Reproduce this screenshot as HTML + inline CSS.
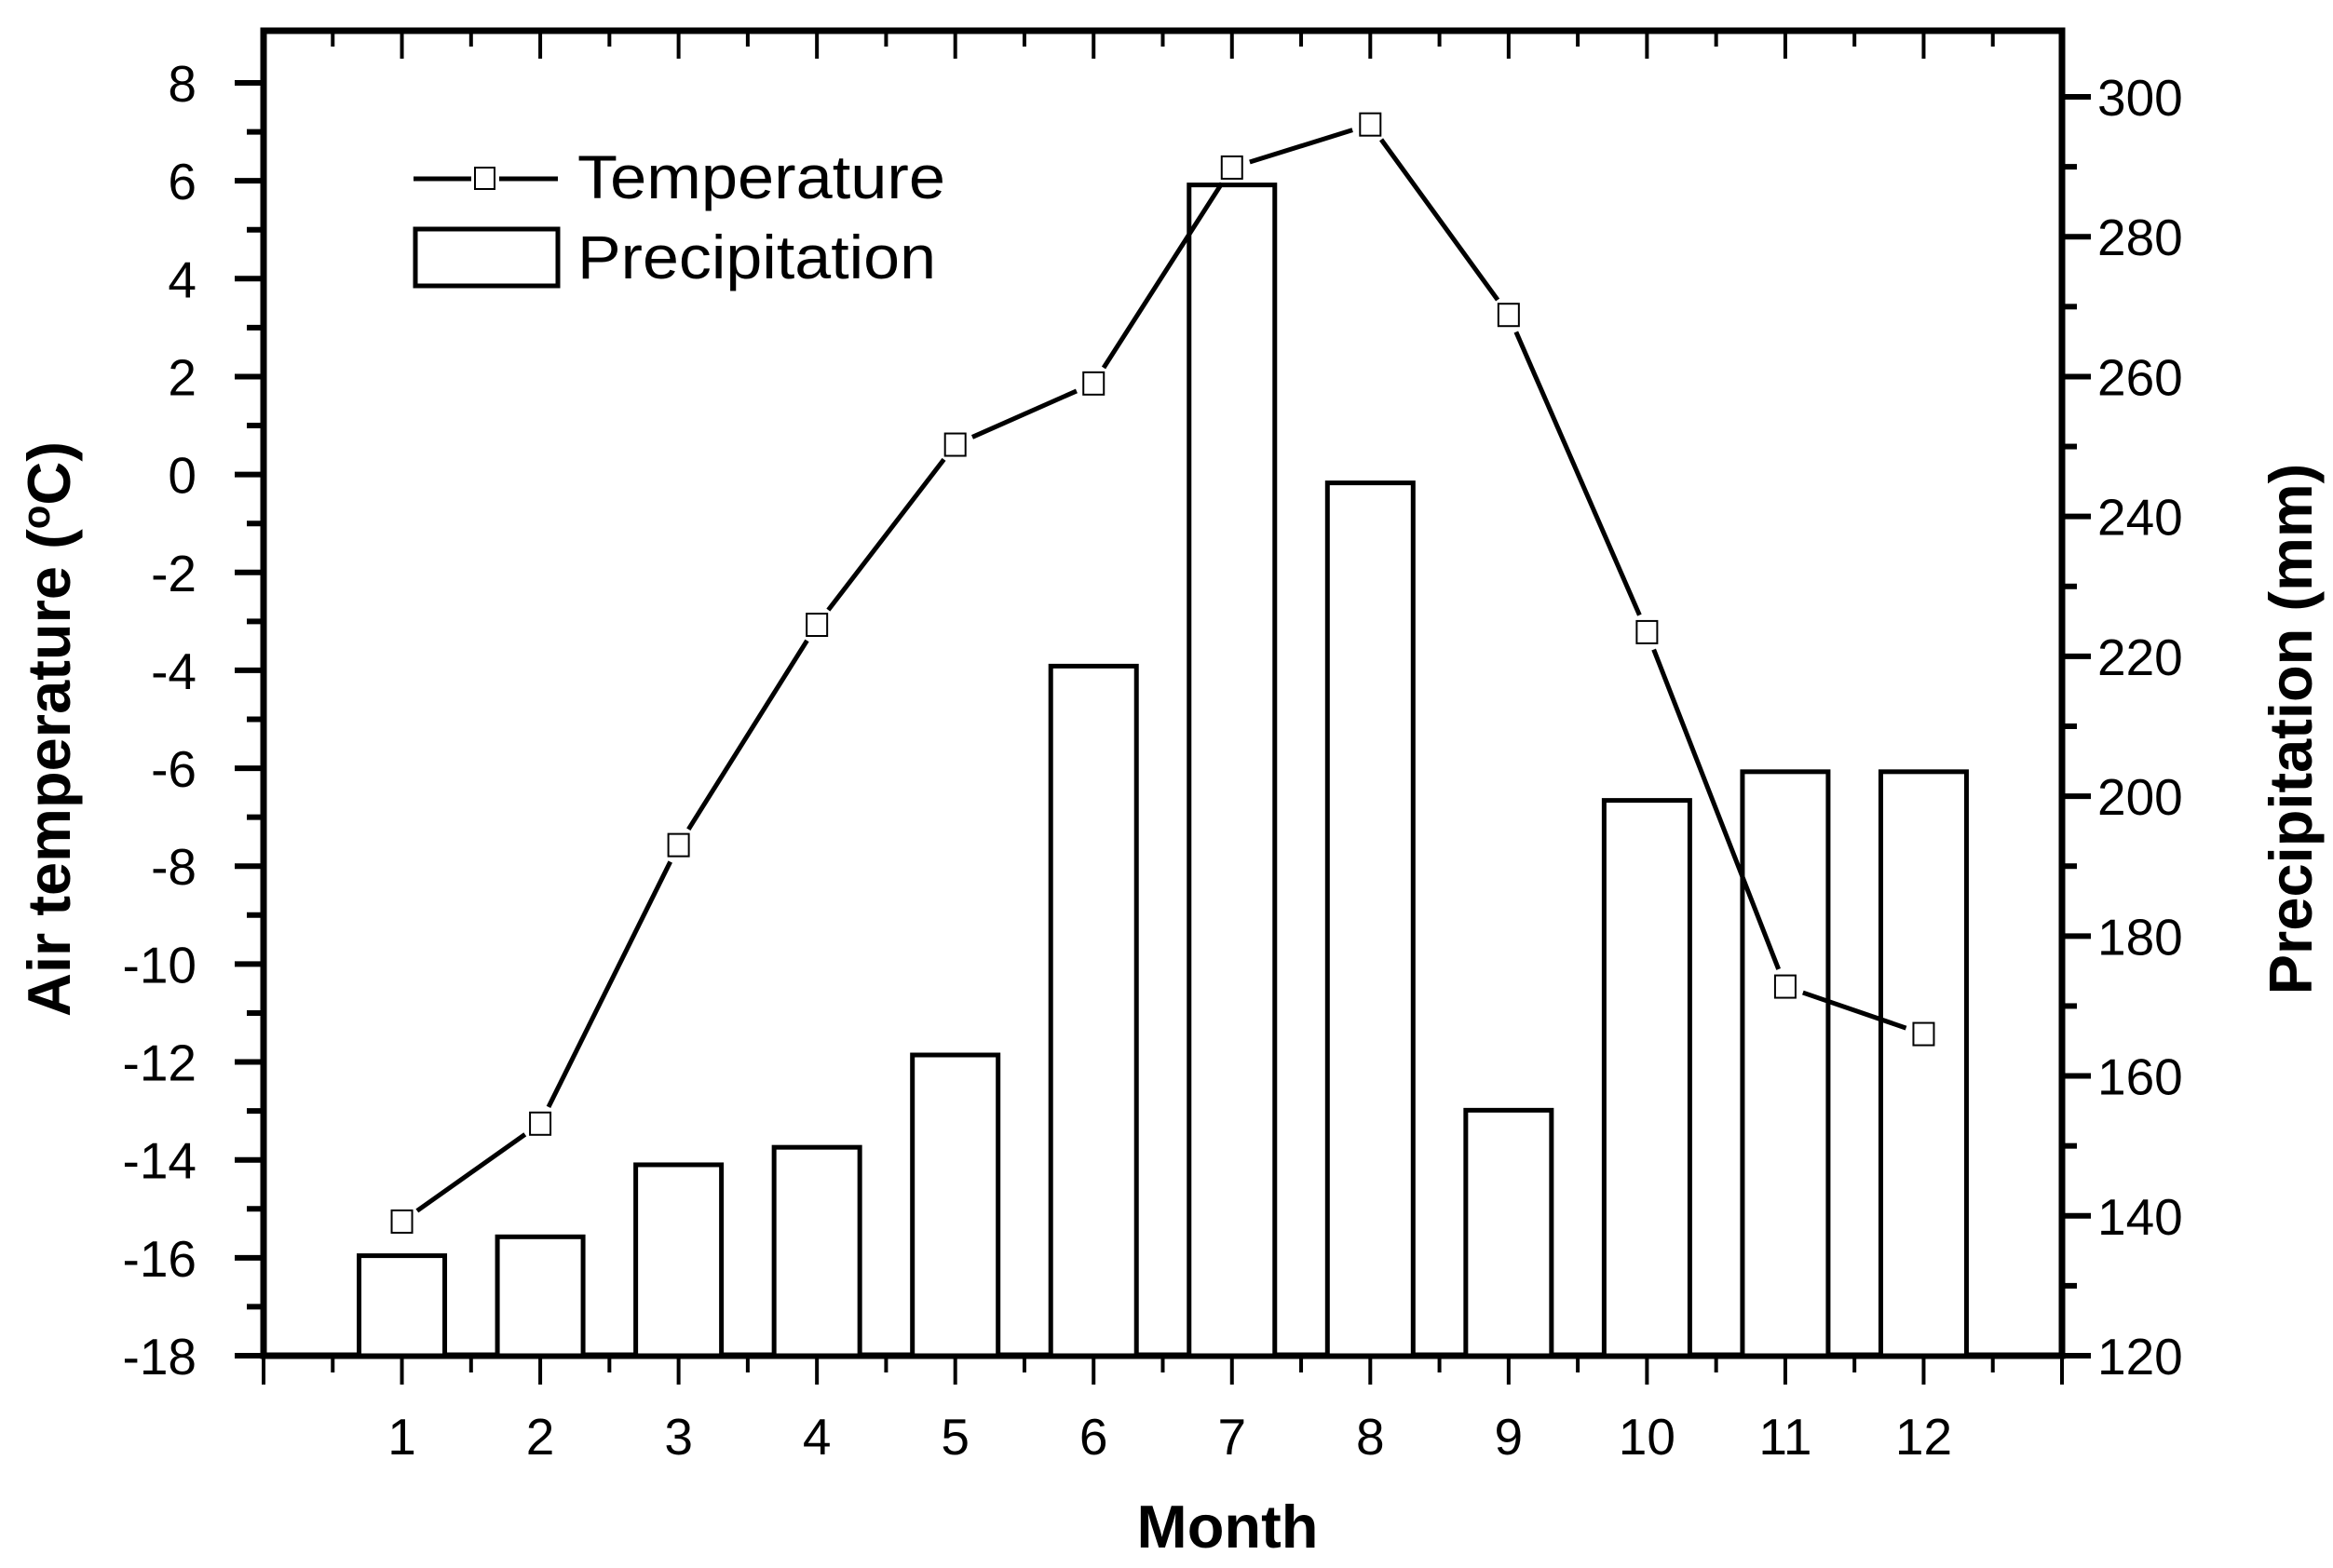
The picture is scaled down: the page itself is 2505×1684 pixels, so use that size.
<!DOCTYPE html>
<html><head><meta charset="utf-8"><style>
html,body{margin:0;padding:0;background:#fff;}
svg{display:block;font-family:"Liberation Sans",Arial,sans-serif;}
</style></head><body>
<svg id="chart" width="2505" height="1684" viewBox="0 0 2505 1684" xmlns="http://www.w3.org/2000/svg">
<g id="axes"></g>
<g id="bars"></g>
<g id="line"></g>
<g id="legend">
  <line x1="444" y1="192" x2="506" y2="192" stroke="#000" stroke-width="5"/>
  <line x1="536" y1="192" x2="599" y2="192" stroke="#000" stroke-width="5"/>
  <rect x="510" y="180" width="21" height="23" fill="#fff" stroke="#000" stroke-width="2"/>
  <text x="620" y="213" font-size="66" textLength="395" lengthAdjust="spacingAndGlyphs">Temperature</text>
  <rect x="446" y="246" width="153" height="61" fill="#fff" stroke="#000" stroke-width="5"/>
  <text x="620" y="299" font-size="66" textLength="385" lengthAdjust="spacingAndGlyphs">Precipitation</text>
</g>
<text x="1318" y="1662" font-size="65" font-weight="bold" text-anchor="middle">Month</text>
<text transform="translate(75,783) rotate(-90)" font-size="65" font-weight="bold" text-anchor="middle">Air temperature (<tspan font-size="42" dy="-22">o</tspan><tspan dy="22">C)</tspan></text>
<text transform="translate(2482,783) rotate(-90)" font-size="65" font-weight="bold" text-anchor="middle">Precipitation (mm)</text>
</svg>
<script>
const months = [1,2,3,4,5,6,7,8,9,10,11,12];
const temperature = [-15.26,-13.26,-7.57,-3.07,0.61,1.86,6.27,7.15,3.26,-3.22,-10.46,-11.43];
const precipitation = [134.3,137,147.3,149.8,163,218.6,287.4,244.8,155.1,199.4,203.5,203.5];
const tempTicks = [8,6,4,2,0,-2,-4,-6,-8,-10,-12,-14,-16,-18];
const precipTicks = [120,140,160,180,200,220,240,260,280,300];

const NS='http://www.w3.org/2000/svg';
const L=283,R=2214,T=33,B=1456;
const xS=m=>L+(m/13)*(R-L);
const yT=v=>89+(8-v)*(1456-89)/26;
const yP=v=>B-(v-120)*(B-104)/180;
function mk(tag,attrs,parent){const e=document.createElementNS(NS,tag);for(const k in attrs)e.setAttribute(k,attrs[k]);parent.appendChild(e);return e;}
const axes=document.getElementById('axes'),bars=document.getElementById('bars'),line=document.getElementById('line');

precipitation.forEach((v,i)=>{
  const cx=xS(months[i]),w=92;
  const r=mk('rect',{x:cx-w/2,y:yP(v),width:w,height:B-yP(v),fill:'#fff',stroke:'#000','stroke-width':5},bars);
  
  
});
const fr=mk('rect',{x:L,y:T,width:R-L,height:B-T,fill:'none',stroke:'#000','stroke-width':7},axes);


for(let k=0;k<=26;k++){
  const m=k/2,x=xS(m),len=(k%2===0)?31:18;
  mk('line',{x1:x,y1:B,x2:x,y2:B+len,stroke:'#000','stroke-width':4},axes);
  mk('line',{x1:x,y1:T,x2:x,y2:T+len-1,stroke:'#000','stroke-width':4},axes);
}
months.forEach(m=>{
  const t=mk('text',{x:xS(m),y:1562,'font-size':55,'text-anchor':'middle'},axes);
  t.textContent=m;
  
  
});
tempTicks.forEach(v=>{
  const y=yT(v);
  mk('line',{x1:L-31,y1:y,x2:L,y2:y,stroke:'#000','stroke-width':6},axes);
  if(v>-18){const ym=yT(v-1);mk('line',{x1:L-18,y1:ym,x2:L,y2:ym,stroke:'#000','stroke-width':6},axes);}
  const t=mk('text',{x:211,y:y+20,'font-size':55,'text-anchor':'end'},axes);
  t.textContent=v;
  
  
});
precipTicks.forEach(v=>{
  const y=yP(v);
  mk('line',{x1:R,y1:y,x2:R+31,y2:y,stroke:'#000','stroke-width':6},axes);
  if(v<300){const ym=yP(v+10);mk('line',{x1:R,y1:ym,x2:R+16,y2:ym,stroke:'#000','stroke-width':6},axes);}
  const t=mk('text',{x:2252,y:y+20,'font-size':55},axes);
  t.textContent=v;
  
  
});
for(let i=0;i<temperature.length-1;i++){
  const x1=xS(months[i]),y1=yT(temperature[i]),x2=xS(months[i+1]),y2=yT(temperature[i+1]);
  const dx=x2-x1,dy=y2-y1,d=Math.hypot(dx,dy),g=20;
  const s=mk('line',{x1:x1+dx*g/d,y1:y1+dy*g/d,x2:x2-dx*g/d,y2:y2-dy*g/d,stroke:'#000','stroke-width':5},line);
  
  
}
temperature.forEach((v,i)=>{
  const p=mk('rect',{x:xS(months[i])-11,y:yT(v)-12,width:22,height:24,fill:'#fff',stroke:'#000','stroke-width':2},line);
  
  
});
</script>
</body></html>
